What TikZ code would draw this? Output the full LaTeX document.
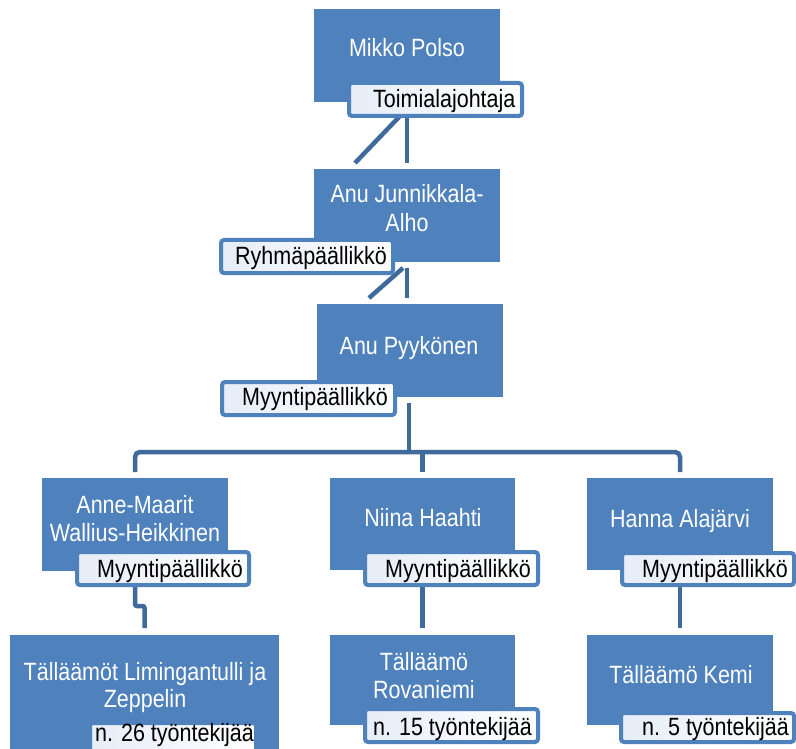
\documentclass[tikz,border=0pt]{standalone}
\usepackage{fontspec}
\setmainfont{Liberation Sans}[FakeStretch=0.86]
\usetikzlibrary{calc,backgrounds}
\definecolor{boxblue}{HTML}{4F81BD}
\definecolor{connblue}{HTML}{3E6A9C}
\definecolor{lbltint}{HTML}{E6EDF7}
\begin{document}
\begin{tikzpicture}[x=1pt,y=-1pt,
  box/.style={draw=none,fill=boxblue,inner sep=0pt,outer sep=0pt,anchor=north west,minimum width=186pt,minimum height=93pt},
  lbl/.style={draw=boxblue,line width=4pt,rounded corners=3pt,left color=lbltint,right color=white,inner sep=0pt,outer sep=0pt,anchor=north west,minimum width=173pt,minimum height=33pt},
  btext/.style={text=white,inner sep=0pt,anchor=base,font=\fontsize{25}{28}\selectfont},
  ltext/.style={text=black,inner sep=0pt,anchor=base west,font=\fontsize{25}{28}\selectfont},
  conn/.style={draw=connblue,line width=4.5pt}]
\useasboundingbox (0,0) rectangle (796,749);
\clip (0,0) rectangle (796,749);

% boxes
\node[box] (B1) at (314,9) {};
\node[box] (B2) at (314,169) {};
\node[box] (B3) at (317,304) {};
\node[box] (B4) at (42,478) {};
\node[box,minimum width=269pt,minimum height=130pt] (B5) at (10,635) {};
\node[box,minimum width=185pt,minimum height=92pt] (B6) at (330,478) {};
\node[box,minimum width=185pt,minimum height=90pt] (B7) at (330,635) {};
\node[box,minimum height=92pt] (B8) at (587,478) {};
\node[box,minimum height=90pt] (B9) at (587,635) {};

% box texts
\node[btext] (T1) at (407,57) {Mikko Polso};
\node[btext] (T2a) at (407,203) {Anu Junnikkala-};
\node[btext] (T2b) at (407,232) {Alho};
\node[btext] (T3) at (409,354) {Anu Pyykönen};
\node[btext] (T4a) at (135,513) {Anne-Maarit};
\node[btext] (T4b) at (135,541) {Wallius-Heikkinen};
\node[btext] (T5a) at (145,680) {Tälläämöt Limingantulli ja};
\node[btext] (T5b) at (145,707) {Zeppelin};
\node[btext] (T6) at (423,526) {Niina Haahti};
\node[btext] (T7a) at (424,670) {Tälläämö};
\node[btext] (T7b) at (424,698) {Rovaniemi};
\node[btext] (T8) at (680,527) {Hanna Alajärvi};
\node[btext] (T9) at (681,683) {Tälläämö Kemi};

% labels
\node[lbl] (L1) at (349,83) {};
\node[lbl,minimum width=172pt] (L2) at (221,240) {};
\node[lbl] (L3) at (222,382) {};
\node[lbl,minimum width=172pt] (L4) at (77,552) {};
\node[lbl,minimum width=166pt] (L5) at (90,723) {};
\node[lbl] (L6) at (365,552) {};
\node[lbl] (L7) at (365,709) {};
\node[lbl,minimum width=172pt,minimum height=32pt] (L8) at (622,553) {};
\node[lbl,minimum height=29pt] (L9) at (621,713) {};

\node[ltext] (LT1) at (373,108) {Toimialajohtaja};
\node[ltext] (LT2) at (235,265) {Ryhmäpäällikkö};
\node[ltext] (LT3) at (242,405) {Myyntipäällikkö};
\node[ltext] (LT4) at (97,577) {Myyntipäällikkö};
\node[ltext] (LT5) at (95,741) {n. 26 työntekijää};
\node[ltext] (LT6) at (385,577) {Myyntipäällikkö};
\node[ltext] (LT7) at (373,735) {n. 15 työntekijää};
\node[ltext] (LT8) at (642,577) {Myyntipäällikkö};
\node[ltext] (LT9) at (642,735) {n. 5 työntekijää};

\coordinate (bus) at (0,452);

% connectors
\begin{pgfonlayer}{background}
\draw[conn] (L1.south -| B1.south) -- ($(B2.north)+(0,-6)$);
\draw[conn] ($(L1.south -| B1.south)+(-7,0)$) -- ($(B2.north)+(-52,-6)$);
\draw[conn] ($(B2.south)+(0,6)$) -- ($(B2.south |- B3.north)+(0,-6)$);
\draw[conn] ($(B2.south)+(-4,6)$) -- ($(B2.south |- B3.north)+(-38,-6)$);
\draw[conn] ($(B3.south)+(-1,6)$) -- ($(B3.south |- bus)+(-1,0)$);
\draw[conn,rounded corners=5pt] ($(B4.north)+(0,-6)$) |- (B8.north |- bus) -- ($(B8.north)+(0,-6)$);
\draw[conn] (B6.north |- bus) -- ($(B6.north)+(0,-6)$);
\draw[conn,rounded corners=2pt] (B4.south |- L4.south) -- ($(B4.south |- L4.south)+(0,21)$) -| ($(B5.north)+(0,-7)$);
\draw[conn] (B6.south |- L6.south) -- ($(B7.north)+(0,-7)$);
\draw[conn] (B8.south |- L8.south) -- ($(B9.north)+(0,-7)$);
\end{pgfonlayer}
\end{tikzpicture}
\end{document}
